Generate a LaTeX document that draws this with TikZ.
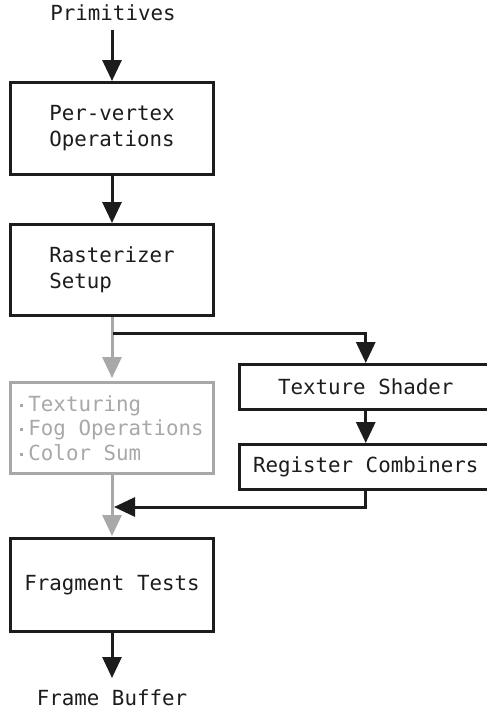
\documentclass[tikz,border=0pt]{standalone}
\usepackage{fontspec}
\setmonofont{DejaVu Sans Mono}
\usetikzlibrary{arrows.meta}
\definecolor{ink}{HTML}{1C1C1C}
\definecolor{dim}{HTML}{A8A8A8}
\tikzset{
  lbl/.style={font=\ttfamily\fontsize{20.8}{26}\selectfont, text=ink, inner sep=0pt, align=left},
  box/.style={lbl, draw=ink, line width=3pt, minimum width=203pt},
  dimbox/.style={box, draw=dim, text=dim},
  flow/.style={draw=ink, line width=3pt, -{Triangle[length=21pt,width=19pt]}},
  dimflow/.style={flow, draw=dim, fill=dim},
  wire/.style={draw=ink, line width=3pt},
}
\newcommand{\bul}{\raisebox{4.5pt}{\rule{3.2pt}{3.2pt}}\hspace{5pt}}
\begin{document}
\begin{tikzpicture}[x=1pt,y=-1pt]
  \useasboundingbox (0,0) rectangle (487,710);
  \fill[white] (0,0) rectangle (487,710);
  \clip (0,0) rectangle (487,710);

  % left column
  \node[lbl] (prim) at (113,13) {Primitives};
  \node[box, minimum height=92pt] (pv) at (112,128.5) {Per-vertex\\Operations};
  \node[box, minimum height=91pt] (rs) at (112,270) {Rasterizer\\Setup\hspace{5\fontcharwd\font`0}};
  \node[dimbox, minimum height=91pt, font=\ttfamily\fontsize{20.8}{24.5}\selectfont] (tex) at (112,428)
    {\bul Texturing\\\bul Fog Operations\\\bul Color Sum\hspace{5\fontcharwd\font`0}};
  \node[box, minimum height=93pt] (ft) at (112,585) {Fragment Tests};
  \node[lbl] (fb) at (112,698) {Frame Buffer};

  % right column, running off the right edge
  \node[box, minimum width=252.5pt, minimum height=45pt] (ts) at (365.75,387) {Texture Shader};
  \node[box, minimum width=252.5pt, minimum height=45pt] (rc) at (365.75,467) {Register Combiners};

  % junction points on the main line
  \coordinate (split) at (112,333);
  \coordinate (merge) at (112,507);
  \coordinate (top) at (112,30);
  \coordinate (bottom) at (112,678);

  % main flow
  \draw[flow] (top) -- (pv.north);
  \draw[flow] (pv.south) -- (rs.north);
  \draw[dimflow, shorten >=3pt] (rs.south) -- (tex.north);
  \draw[dimflow, shorten >=1pt] (tex.south) -- (ft.north);
  \draw[flow] (ft.south) -- (bottom);

  % texture shader branch
  \draw[flow] ([xshift=1pt]split) -| (ts.north);
  \draw[flow] (ts.south) -- (rc.north);
  \draw[wire] (rc.south) |- ([xshift=22pt]merge);
  \draw[flow] ([xshift=24pt]merge) -- ([xshift=2pt]merge);
\end{tikzpicture}
\end{document}
